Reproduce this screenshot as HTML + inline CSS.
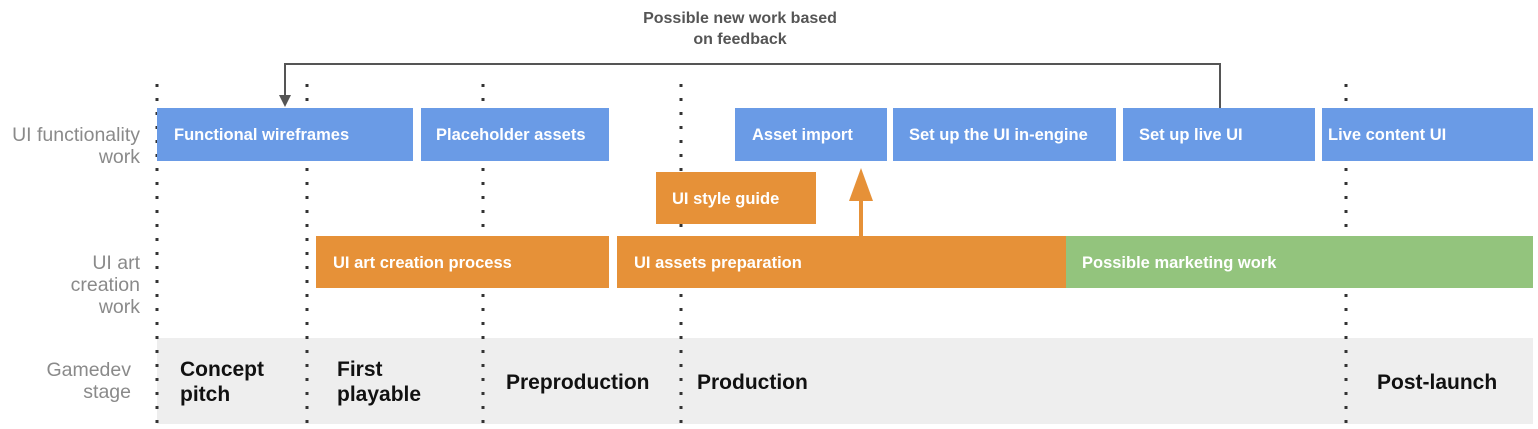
<!DOCTYPE html>
<html><head><meta charset="utf-8"><style>
html,body{margin:0;padding:0;background:#fff;}
svg{display:block;}
text{font-family:"Liberation Sans",sans-serif;}
.bt{fill:#fff;font-weight:bold;font-size:16.5px;}
.lb{fill:#8a8a8a;font-size:19.5px;text-anchor:end;}
.st{fill:#111;font-weight:bold;font-size:21px;}
</style></head><body>
<svg width="1538" height="429" viewBox="0 0 1538 429">
<rect x="157" y="338" width="1376" height="86" fill="#eeeeee"/>
<g stroke="#333" stroke-width="3" stroke-dasharray="3 11">
<line x1="157" y1="84" x2="157" y2="424"/>
<line x1="307" y1="84" x2="307" y2="424"/>
<line x1="483" y1="84" x2="483" y2="424"/>
<line x1="681" y1="84" x2="681" y2="424"/>
<line x1="1346" y1="84" x2="1346" y2="424"/>
</g>
<g fill="#6a9be6">
<rect x="157" y="108" width="256" height="53"/>
<rect x="421" y="108" width="188" height="53"/>
<rect x="735" y="108" width="152" height="53"/>
<rect x="893" y="108" width="223" height="53"/>
<rect x="1123" y="108" width="192" height="53"/>
<rect x="1322" y="108" width="211" height="53"/>
</g>
<rect x="656" y="172" width="160" height="52" fill="#e69138"/>
<rect x="316" y="236" width="293" height="52" fill="#e69138"/>
<rect x="617" y="236" width="449" height="52" fill="#e69138"/>
<rect x="1066" y="236" width="467" height="52" fill="#93c47d"/>
<polyline points="1220,108 1220,64 285,64 285,96" fill="none" stroke="#555" stroke-width="2"/>
<polygon points="279,95 291,95 285,107" fill="#555"/>
<line x1="861" y1="236" x2="861" y2="196" stroke="#e69138" stroke-width="4"/>
<polygon points="849,201 873,201 861,168" fill="#e69138"/>
<text x="740" y="23" text-anchor="middle" style="font-size:16px;font-weight:bold;fill:#555">Possible new work based</text>
<text x="740" y="44" text-anchor="middle" style="font-size:16px;font-weight:bold;fill:#555">on feedback</text>
<text class="bt" x="174" y="140">Functional wireframes</text>
<text class="bt" x="436" y="140">Placeholder assets</text>
<text class="bt" x="752" y="140">Asset import</text>
<text class="bt" x="909" y="140">Set up the UI in-engine</text>
<text class="bt" x="1139" y="140">Set up live UI</text>
<text class="bt" x="1328" y="140">Live content UI</text>
<text class="bt" x="672" y="204">UI style guide</text>
<text class="bt" x="333" y="268">UI art creation process</text>
<text class="bt" x="634" y="268">UI assets preparation</text>
<text class="bt" x="1082" y="268">Possible marketing work</text>
<text class="lb" x="140" y="141">UI functionality</text>
<text class="lb" x="140" y="163">work</text>
<text class="lb" x="140" y="269">UI art</text>
<text class="lb" x="140" y="291">creation</text>
<text class="lb" x="140" y="313">work</text>
<text class="lb" x="131" y="376">Gamedev</text>
<text class="lb" x="131" y="398">stage</text>
<text class="st" x="180" y="376">Concept</text>
<text class="st" x="180" y="401">pitch</text>
<text class="st" x="337" y="376">First</text>
<text class="st" x="337" y="401">playable</text>
<text class="st" x="506" y="389">Preproduction</text>
<text class="st" x="697" y="389">Production</text>
<text class="st" x="1377" y="389">Post-launch</text>
</svg>
</body></html>
